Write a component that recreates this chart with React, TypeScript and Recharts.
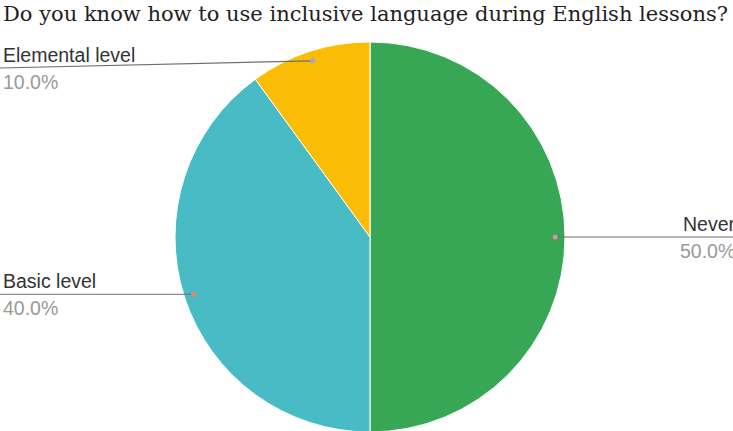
import React from "react";
import { PieChart, Pie, Cell } from "recharts";

const categories = ["Never", "Basic level", "Elemental level"];
const values = [50, 40, 10];
const colors = ["#38a755", "#48bbc5", "#fbbc05"];
const dotColors = ["#e0909a", "#e8846f", "#9fa8dc"];
const title = "Do you know how to use inclusive language during English lessons?";

const data = categories.map((name, i) => ({ name, value: values[i] }));

const W = 733;
const H = 431;
const RAD = Math.PI / 180;

function renderLabel(props: any) {
  const { cx, cy, midAngle, outerRadius, percent, name, index } = props;
  const r = outerRadius * 0.95;
  const x = cx + r * Math.cos(-midAngle * RAD);
  const y = cy + r * Math.sin(-midAngle * RAD);
  const right = x > cx;
  const ey = Math.max(y, 68);
  const ex = right ? W : 0;
  const tx = right ? 683 : 3;
  return (
    <g key={`lbl-${index}`}>
      <path d={`M${x},${y}L${ex},${ey}`} stroke="#6f6f6f" strokeWidth={1.2} fill="none" />
      <circle cx={x} cy={y} r={2.5} fill={dotColors[index]} />
      <text x={tx} y={ey - 6} fontFamily="Liberation Sans, Arial, sans-serif" fontSize={19.5} fill="#333" textAnchor="start">
        {name}
      </text>
      <text x={right ? 680 : 3} y={ey + 21} fontFamily="Liberation Sans, Arial, sans-serif" fontSize={19.5} fill="#999" textAnchor="start">
        {`${(percent * 100).toFixed(1)}%`}
      </text>
    </g>
  );
}

export default function App() {
  return (
    <div style={{ position: "absolute", left: 0, top: 0, width: W, height: H, background: "#fff", overflow: "hidden" }}>
      <PieChart width={W} height={H} margin={{ top: 0, right: 0, bottom: 0, left: 0 }}>
        <Pie
          data={data}
          dataKey="value"
          nameKey="name"
          cx={370}
          cy={237}
          outerRadius={195}
          startAngle={90}
          endAngle={-270}
          stroke="#ffffff"
          strokeWidth={1}
          label={renderLabel}
          labelLine={false}
          isAnimationActive={false}
        >
          {data.map((d, i) => (
            <Cell key={d.name} fill={colors[i]} />
          ))}
        </Pie>
      </PieChart>
      <svg width={W} height={40} style={{ position: "absolute", left: 0, top: 0 }}>
        <text x={3} y={21} fontFamily="DejaVu Serif, serif" fontSize={21} fill="#222" textLength={725} lengthAdjust="spacingAndGlyphs">
          {title}
        </text>
      </svg>
    </div>
  );
}
